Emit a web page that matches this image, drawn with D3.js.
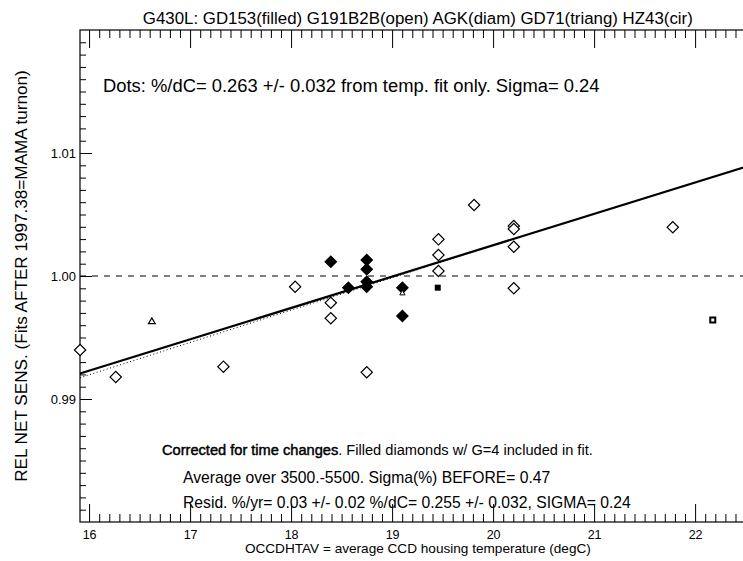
<!DOCTYPE html>
<html><head><meta charset="utf-8">
<script src="https://cdn.jsdelivr.net/npm/d3@7"></script>
<style>
body{margin:0;background:#fff}
svg{display:block}
text{font-family:"Liberation Sans",Arial,Helvetica,sans-serif;fill:#000}
</style>
</head><body>
<svg id="c" width="743" height="561"></svg>
<script>
// ---- data ----
const gd153FilledDiamonds = [[18.393,1.00116],[18.749,1.00130],[18.749,1.00054],[18.749,0.99954],[18.749,0.99913],[18.567,0.99905],[19.102,0.99905],[19.102,0.99675]];
const openDiamonds = [[15.911,0.99398],[16.264,0.99179],[17.330,0.99263],[18.040,0.99913],[18.393,0.99783],[18.393,0.99656],[18.749,0.99217],[19.459,1.00298],[19.459,1.00171],[19.459,1.00041],[19.812,1.00577],[20.205,1.00407],[20.205,1.00382],[20.205,1.00238],[20.205,0.99900],[21.779,1.00396]];
const filledSquares = [[19.452,0.99905]];
const openSquares = [[22.175,0.99642]];
const openTriangles = [[16.621,0.99628]];
const smallTriangles = [[19.102,0.99859]];
const fitLineX = [15.91, 22.6];
const fitLineY = [0.99207, 1.00913];
const dotsLineX = [15.91, 20.25];
const dotsLineY = [0.99173, 1.00314];
const refLevel = 1.00;
const xMajorTicks = [16,17,18,19,20,21,22];
const yMajorTicks = [0.99,1.00,1.01];
const yTickLabels = ["0.99","1.00","1.01"];
const titleText = "G430L: GD153(filled) G191B2B(open) AGK(diam) GD71(triang) HZ43(cir)";
const xTitle = "OCCDHTAV =  average CCD housing temperature (degC)";
const yTitle = "REL NET SENS. (Fits AFTER 1997.38=MAMA turnon)";
const dotsNote = "Dots: %/dC= 0.263 +/- 0.032 from temp. fit only. Sigma= 0.24";
const corrBold = "Corrected for time changes";
const corrRest = ". Filled diamonds w/ G=4 included in fit.";
const avgNote = "Average over 3500.-5500.  Sigma(%) BEFORE= 0.47";
const residNote = "Resid. %/yr= 0.03 +/- 0.02  %/dC= 0.255 +/- 0.032, SIGMA= 0.24";

// ---- layout ----
const L = 80, T = 30, B = 522, R = 755.7;
const svg = d3.select("#c");
const x = d3.scaleLinear().domain([15.91, 22.6]).range([L, R]);
const y = d3.scaleLinear().domain([0.98, 1.02]).range([B, T]);

const xMinor = d3.range(159, 227).map(v => v/10).filter(v => v > 15.91 && v < 22.6 && Math.abs(v - Math.round(v)) > 1e-6);
const yMinor = d3.range(981, 1020).map(v => v/1000).filter(v => Math.abs(v*100 - Math.round(v*100)) > 1e-6);

function styleAxis(g){ g.select(".domain").remove(); g.selectAll(".tick line").attr("stroke","#000").attr("stroke-width",1); }

// bottom
svg.append("g").attr("transform",`translate(0,${B})`)
  .call(d3.axisBottom(x).tickValues(xMajorTicks).tickSize(-18).tickPadding(8).tickFormat(d3.format("d")))
  .call(styleAxis)
  .call(g => g.selectAll("text").attr("font-size",12.5).attr("font-family",'"Liberation Sans",Arial,sans-serif').attr("fill","#000"));
svg.append("g").attr("transform",`translate(0,${B})`)
  .call(d3.axisBottom(x).tickValues(xMinor).tickSize(-8).tickFormat(""))
  .call(styleAxis);
// top
svg.append("g").attr("transform",`translate(0,${T})`)
  .call(d3.axisTop(x).tickValues(xMajorTicks).tickSize(-18).tickFormat(""))
  .call(styleAxis);
svg.append("g").attr("transform",`translate(0,${T})`)
  .call(d3.axisTop(x).tickValues(xMinor).tickSize(-8).tickFormat(""))
  .call(styleAxis);
// left
svg.append("g").attr("transform",`translate(${L},0)`)
  .call(d3.axisLeft(y).tickValues(yMajorTicks).tickSize(-12).tickPadding(4).tickFormat((d,i)=>yTickLabels[i]))
  .call(styleAxis)
  .call(g => g.selectAll("text").attr("font-size",13).attr("font-family",'"Liberation Sans",Arial,sans-serif').attr("fill","#000"));
svg.append("g").attr("transform",`translate(${L},0)`)
  .call(d3.axisLeft(y).tickValues(yMinor).tickSize(-6).tickFormat(""))
  .call(styleAxis);
// right
svg.append("g").attr("transform",`translate(${R},0)`)
  .call(d3.axisRight(y).tickValues(yMajorTicks).tickSize(-12).tickFormat(""))
  .call(styleAxis);
svg.append("g").attr("transform",`translate(${R},0)`)
  .call(d3.axisRight(y).tickValues(yMinor).tickSize(-6).tickFormat(""))
  .call(styleAxis);

// frame
svg.append("rect").attr("x",L).attr("y",T).attr("width",R-L).attr("height",B-T)
  .attr("fill","none").attr("stroke","#000").attr("stroke-width",1.2);

// reference dashed line
svg.append("line").attr("x1",L).attr("x2",R).attr("y1",y(refLevel)).attr("y2",y(refLevel))
  .attr("stroke","#000").attr("stroke-width",1).attr("stroke-dasharray","6,6");

// fit lines
const line = d3.line().x(d=>x(d[0])).y(d=>y(d[1]));
svg.append("path").datum(dotsLineX.map((v,i)=>[v,dotsLineY[i]])).attr("d",line)
  .attr("fill","none").attr("stroke","#000").attr("stroke-width",1).attr("stroke-dasharray","1,2.5");
svg.append("path").datum(fitLineX.map((v,i)=>[v,fitLineY[i]])).attr("d",line)
  .attr("fill","none").attr("stroke","#000").attr("stroke-width",2.2);

// markers
const diamond = d3.symbol().type(d3.symbolSquare).size(64)();
function marks(data, path, rot, fill, sw){
  svg.append("g").selectAll("path").data(data).join("path")
    .attr("d", path)
    .attr("transform", d => `translate(${x(d[0])},${y(d[1])}) rotate(${rot})`)
    .attr("fill", fill).attr("stroke","#000").attr("stroke-width", sw);
}
marks(openDiamonds, diamond, 45, "#fff", 1.2);
marks(gd153FilledDiamonds, diamond, 45, "#000", 1.2);
marks(filledSquares, d3.symbol().type(d3.symbolSquare).size(30)(), 0, "#000", 0.5);
marks(openSquares, d3.symbol().type(d3.symbolSquare).size(25)(), 0, "#fff", 2);
marks(openTriangles, d3.symbol().type(d3.symbolTriangle).size(20)(), 0, "#fff", 1.2);
marks(smallTriangles, d3.symbol().type(d3.symbolTriangle).size(12)(), 0, "#fff", 1);

// texts
function fit(sel, w){
  const n = sel.node(); const fs = parseFloat(sel.attr("font-size"));
  const len = n.getComputedTextLength(); sel.attr("font-size", (fs*w/len).toFixed(2));
  return fs*w/len;
}
const title = svg.append("text").attr("x",(L+R)/2).attr("y",24).attr("text-anchor","middle").attr("font-size",15).text(titleText);
fit(title, 550);

const fsNote = 15.7;
svg.append("text").attr("x",183).attr("y",483).attr("font-size",fsNote).text(avgNote);
const resid = svg.append("text").attr("x",183).attr("y",508).attr("font-size",fsNote).text(residNote);
const residEnd = 183 + resid.node().getComputedTextLength();
const corr = svg.append("text").attr("x",162).attr("y",455).attr("font-size",fsNote);
corr.append("tspan").attr("stroke","#000").attr("stroke-width",0.45).text(corrBold);
corr.append("tspan").text(corrRest);
fit(corr, residEnd - 38 - 162);
const dots = svg.append("text").attr("x",103).attr("y",92).attr("font-size",16).text(dotsNote);
fit(dots, 497);

const xt = svg.append("text").attr("x",(L+R)/2).attr("y",553).attr("text-anchor","middle").attr("font-size",13).text(xTitle);
fit(xt, 346);
const yt = svg.append("text").attr("transform",`translate(27,${(T+B)/2}) rotate(-90)`).attr("text-anchor","middle").attr("font-size",15).text(yTitle);
fit(yt, 412);
</script>
</body></html>
